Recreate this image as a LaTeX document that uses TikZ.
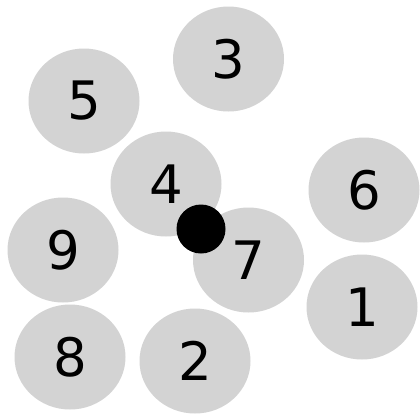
\documentclass[tikz,border=0pt]{standalone}
\usepackage{fontspec}
\setmainfont{DejaVu Sans}
\usetikzlibrary{shapes.geometric}
\begin{document}
\begin{tikzpicture}[x=1pt,y=-1pt,
  blob/.style={ellipse,fill={rgb,255:red,211;green,211;blue,211},minimum width=111pt,minimum height=105pt,inner sep=0pt,font=\fontsize{53}{53}\selectfont},
  dot/.style={circle,fill=black,minimum size=49pt,inner sep=0pt}]
\useasboundingbox (0,0) rectangle (420,413);
\node[blob] (n3) at (228.5,59) {3};
\node[blob] (n5) at (84,101) {5};
\node[blob] (n4) at (166,184) {4};
\node[blob] (n6) at (364,190) {6};
\node[blob] (n9) at (63,250) {9};
\node[blob] (n7) at (248.5,260) {7};
\node[blob] (n1) at (362,307) {1};
\node[blob] (n8) at (70,357) {8};
\node[blob] (n2) at (195,361) {2};
\node[dot] (d) at (201,229) {};
\end{tikzpicture}
\end{document}
